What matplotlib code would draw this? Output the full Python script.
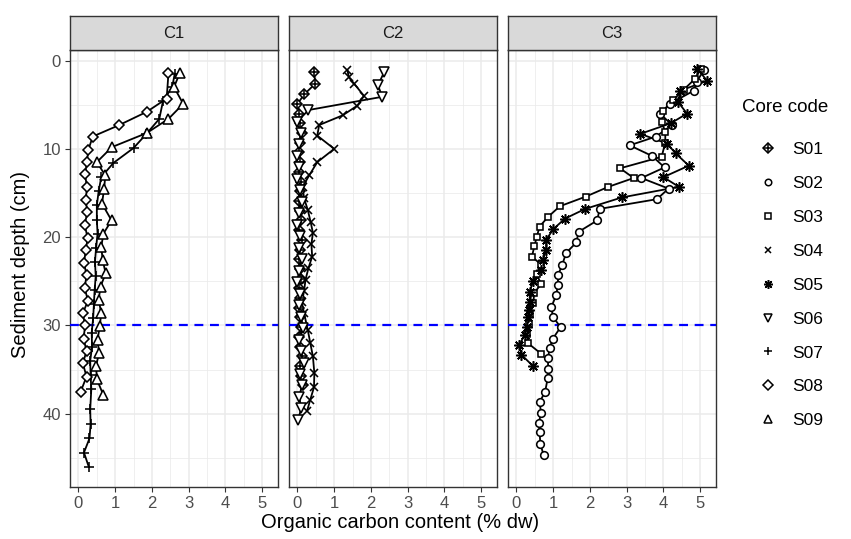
import numpy as np
import matplotlib
matplotlib.use('Agg')
import matplotlib.pyplot as plt
from matplotlib.lines import Line2D

plt.rcParams['font.family'] = ['Liberation Sans', 'DejaVu Sans']

# ---- data : depth (cm) and organic carbon (% dw) per core ----------------
panels = ['C1', 'C2', 'C3']
cores = ['S01', 'S02', 'S03', 'S04', 'S05', 'S06', 'S07', 'S08', 'S09']
core_panel = {'S07': 'C1', 'S08': 'C1', 'S09': 'C1',
              'S01': 'C2', 'S04': 'C2', 'S06': 'C2',
              'S02': 'C3', 'S03': 'C3', 'S05': 'C3'}

s07_depth = [1.5, 3.0, 4.6, 6.6, 8.3, 9.9, 11.6, 13.2, 14.8, 16.4, 18.0, 19.6, 21.2, 22.8,
             24.4, 26.0, 27.6, 29.2, 30.8, 32.4, 34.0, 35.6, 37.2, 39.5, 41.2, 42.8, 44.4, 46.0]
s07_oc = [2.62, 2.55, 2.30, 2.20, 1.85, 1.50, 0.95, 0.62, 0.55, 0.50, 0.50, 0.52, 0.48, 0.45,
          0.47, 0.44, 0.42, 0.40, 0.36, 0.37, 0.32, 0.33, 0.35, 0.32, 0.33, 0.30, 0.15, 0.28]

s08_depth = [1.4, 4.3, 5.8, 7.3, 8.6, 10.1, 11.5, 12.9, 14.3, 15.8, 17.2, 18.6, 20.1, 21.5,
             22.9, 24.3, 25.8, 27.2, 28.6, 30.0, 31.5, 32.9, 34.3, 35.8, 37.5]
s08_oc = [2.45, 2.40, 1.86, 1.11, 0.39, 0.27, 0.23, 0.18, 0.23, 0.20, 0.24, 0.17, 0.25, 0.20,
          0.15, 0.22, 0.17, 0.26, 0.12, 0.18, 0.14, 0.22, 0.12, 0.22, 0.06]

s09_depth = [1.4, 3.0, 4.9, 6.6, 8.2, 9.8, 11.5, 13.0, 14.5, 16.2, 18.1, 19.6, 21.1, 22.6,
             24.1, 25.6, 27.1, 28.6, 30.1, 31.6, 33.1, 34.6, 36.1, 37.9]
s09_oc = [2.76, 2.60, 2.85, 2.45, 1.86, 0.91, 0.50, 0.73, 0.70, 0.64, 0.90, 0.68, 0.62, 0.66,
          0.74, 0.60, 0.55, 0.62, 0.58, 0.52, 0.56, 0.48, 0.50, 0.68]

s01_depth = [1.3, 2.6, 3.8, 4.9, 6.0, 7.1, 8.2, 9.3, 10.4, 11.5, 12.6, 13.7, 14.8, 15.9, 17.0,
             18.1, 19.2, 20.3, 21.4, 22.5, 23.6, 24.7, 25.8, 26.9, 28.0, 29.1, 30.2, 31.3,
             32.4, 33.5, 34.6, 35.7, 36.8]
s01_oc = [0.45, 0.49, 0.19, 0.00, 0.05, 0.08, 0.12, 0.06, 0.04, 0.08, 0.05, 0.10, 0.06, 0.03,
          0.08, 0.10, 0.05, 0.12, 0.08, 0.04, 0.06, 0.10, 0.05, 0.08, 0.03, 0.06, 0.10, 0.04,
          0.08, 0.12, 0.06, 0.10, 0.15]

s04_depth = [1.1, 1.9, 2.6, 4.0, 5.1, 6.2, 7.3, 8.5, 10.0, 11.5, 13.0, 14.3, 15.6, 16.9, 18.3,
             19.5, 20.8, 22.2, 23.5, 24.8, 26.1, 27.4, 28.6, 30.5, 32.0, 33.5, 35.4, 37.0,
             38.4, 39.7]
s04_oc = [1.36, 1.40, 1.54, 1.81, 1.63, 1.23, 0.59, 0.54, 1.00, 0.54, 0.32, 0.14, 0.18, 0.28,
          0.36, 0.42, 0.38, 0.40, 0.30, 0.22, 0.18, 0.12, 0.18, 0.28, 0.35, 0.42, 0.46, 0.45,
          0.35, 0.26]

s06_depth = [1.3, 2.8, 4.1, 5.6, 6.9, 8.2, 9.5, 10.8, 12.1, 13.4, 14.7, 16.0, 17.3, 18.6, 19.9,
             21.2, 22.5, 23.8, 25.1, 26.4, 27.7, 29.0, 30.3, 31.6, 32.9, 34.2, 35.5, 36.8,
             38.1, 39.4, 40.7]
s06_oc = [2.36, 2.19, 2.31, 0.30, 0.00, 0.09, 0.05, 0.00, 0.03, 0.00, 0.06, 0.12, 0.05, 0.00,
          0.08, 0.05, 0.12, 0.04, 0.00, 0.08, 0.05, 0.10, 0.15, 0.05, 0.10, 0.18, 0.08, 0.12,
          0.05, 0.10, 0.02]

s02_depth = [1.1, 2.4, 3.4, 4.9, 6.0, 7.3, 8.6, 9.6, 10.8, 12.1, 13.3, 14.5, 15.7, 16.8, 18.1,
             19.4, 20.6, 21.8, 23.2, 24.3, 25.4, 26.6, 27.9, 29.0, 30.2, 31.5, 32.6, 33.7,
             34.9, 36.0, 37.5, 38.7, 39.9, 41.0, 42.1, 43.4, 44.7]
s02_oc = [5.10, 4.90, 4.83, 4.17, 3.91, 4.23, 3.80, 3.08, 3.69, 4.03, 3.40, 4.14, 3.82, 2.26,
          2.20, 1.69, 1.63, 1.35, 1.24, 1.13, 1.13, 1.08, 0.95, 0.99, 1.20, 0.99, 0.90, 0.86,
          0.86, 0.85, 0.78, 0.63, 0.67, 0.61, 0.63, 0.65, 0.74]

s03_depth = [0.9, 2.1, 3.3, 4.5, 5.7, 6.9, 8.1, 9.3, 10.9, 12.2, 13.3, 14.3, 15.4, 16.5, 17.7,
             18.8, 20.0, 21.0, 22.2, 23.1, 24.2, 25.3, 26.3, 27.5, 28.7, 29.8, 31.0, 32.0, 33.2]
s03_oc = [5.02, 4.85, 4.55, 4.25, 4.00, 3.95, 4.05, 4.05, 3.95, 2.82, 3.19, 2.50, 1.89, 1.18,
          0.86, 0.63, 0.55, 0.49, 0.42, 0.67, 0.55, 0.67, 0.49, 0.45, 0.38, 0.35, 0.30, 0.31,
          0.67]

s05_depth = [0.9, 2.3, 3.4, 4.7, 6.0, 7.1, 8.3, 9.4, 10.5, 11.9, 13.2, 14.3, 15.5, 16.8, 17.9,
             19.1, 20.3, 21.5, 22.6, 23.7, 25.0, 26.2, 27.3, 28.2, 29.0, 30.2, 31.1, 32.2,
             33.3, 34.6]
s05_oc = [4.92, 5.19, 4.46, 4.40, 4.64, 4.20, 3.37, 4.10, 4.33, 4.69, 4.00, 4.42, 2.87, 1.87,
          1.32, 1.00, 0.81, 0.81, 0.72, 0.67, 0.45, 0.36, 0.36, 0.33, 0.31, 0.28, 0.22, 0.08,
          0.13, 0.45]

depth = {'S01': s01_depth, 'S02': s02_depth, 'S03': s03_depth, 'S04': s04_depth,
         'S05': s05_depth, 'S06': s06_depth, 'S07': s07_depth, 'S08': s08_depth,
         'S09': s09_depth}
oc = {'S01': s01_oc, 'S02': s02_oc, 'S03': s03_oc, 'S04': s04_oc, 'S05': s05_oc,
      'S06': s06_oc, 'S07': s07_oc, 'S08': s08_oc, 'S09': s09_oc}

x_ticks = [0, 1, 2, 3, 4, 5]
y_ticks = [0, 10, 20, 30, 40]
ref_depth = 30

# ---- marker styles (ggplot shapes 9,1,0,4,8,6,3,5,2) -------------------
mk = {'S01': [('D', 5.5), ('+', 6)], 'S02': [('o', 5.5)], 'S03': [('s', 5)],
      'S04': [('x', 5.5)], 'S05': [((8, 2, 0), 7.5)], 'S06': [('v', 6.5)],
      'S07': [('+', 7.5)], 'S08': [('D', 5.5)], 'S09': [('^', 6.5)]}

def face(m):
    # open shapes get a white fill, line-only shapes none
    if m in ('+', 'x') or isinstance(m, tuple):
        return 'none'
    return 'white'

W, H = 851, 539
fig = plt.figure(figsize=(W / 100, H / 100), dpi=100)

def fx(px):
    return px / W

def fy(py):
    return 1 - py / H

pan_left = [70, 289, 508]
pan_w = 208
pan_top, pan_bot = 50, 487
strip_top = 16
dark = '#333333'
grid_c = '#EBEBEB'

for i, p in enumerate(panels):
    ax = fig.add_axes([fx(pan_left[i]), fy(pan_bot), fx(pan_w), (pan_bot - pan_top) / H])
    ax.set_xlim(-0.23, 5.43)
    ax.set_ylim(48.3, -1.2)
    ax.set_xticks(x_ticks)
    ax.set_xticks(np.arange(0.5, 5.5, 1.0), minor=True)
    ax.set_yticks(y_ticks)
    ax.set_yticks([5, 15, 25, 35, 45], minor=True)
    ax.grid(True, which='major', color=grid_c, lw=1.1, zorder=0)
    ax.grid(True, which='minor', color=grid_c, lw=0.55, zorder=0)
    ax.set_axisbelow(True)
    for s in ax.spines.values():
        s.set_color(dark)
        s.set_linewidth(1.0)
    ax.tick_params(which='major', length=3.5, width=0.8, color=dark,
                   labelsize=12, labelcolor='#4D4D4D', pad=3)
    ax.tick_params(which='minor', length=0)
    if i > 0:
        ax.set_yticklabels([])
        ax.tick_params(axis='y', which='major', length=0)

    ax.axhline(ref_depth, color='#0000FF', lw=1.6, ls=(0, (4, 3)), zorder=3)

    for c in cores:
        if core_panel[c] != p:
            continue
        ax.plot(oc[c], depth[c], color='black', lw=1.3, zorder=4)
        for m, ms in mk[c]:
            ax.plot(oc[c], depth[c], ls='none', marker=m, ms=ms, mfc=face(m),
                    mec='black', mew=1.15, zorder=5)

    # facet strip
    sax = fig.add_axes([fx(pan_left[i]), fy(pan_top), fx(pan_w), (pan_top - strip_top) / H])
    sax.set_facecolor('#D9D9D9')
    sax.set_xticks([])
    sax.set_yticks([])
    for s in sax.spines.values():
        s.set_color(dark)
        s.set_linewidth(1.0)
    sax.text(0.5, 0.5, p, ha='center', va='center', fontsize=12, color='#1A1A1A',
             transform=sax.transAxes)

fig.text(fx(400), fy(523), 'Organic carbon content (% dw)', ha='center', va='center',
         fontsize=14.5)
fig.text(fx(21), fy(265), 'Sediment depth (cm)', ha='center', va='center',
         rotation=90, fontsize=14.5)

# ---- legend -------------------------------------------------------------
fig.text(fx(742), fy(108), 'Core code', ha='left', va='center', fontsize=13.5)
handles = []
for c in cores:
    parts = []
    for m, ms in mk[c]:
        parts.append(Line2D([], [], ls='none', marker=m, ms=ms * 0.85, mec='black',
                            mfc=face(m), mew=1.1))
    handles.append(tuple(parts) if len(parts) > 1 else parts[0])
leg = fig.legend(handles, cores, loc='upper left', bbox_to_anchor=(fx(751), fy(135)),
                 frameon=False, fontsize=12.5, handlelength=1.2, handletextpad=0.75,
                 labelspacing=1.08, borderaxespad=0)

fig.savefig('out.png', dpi=100)
